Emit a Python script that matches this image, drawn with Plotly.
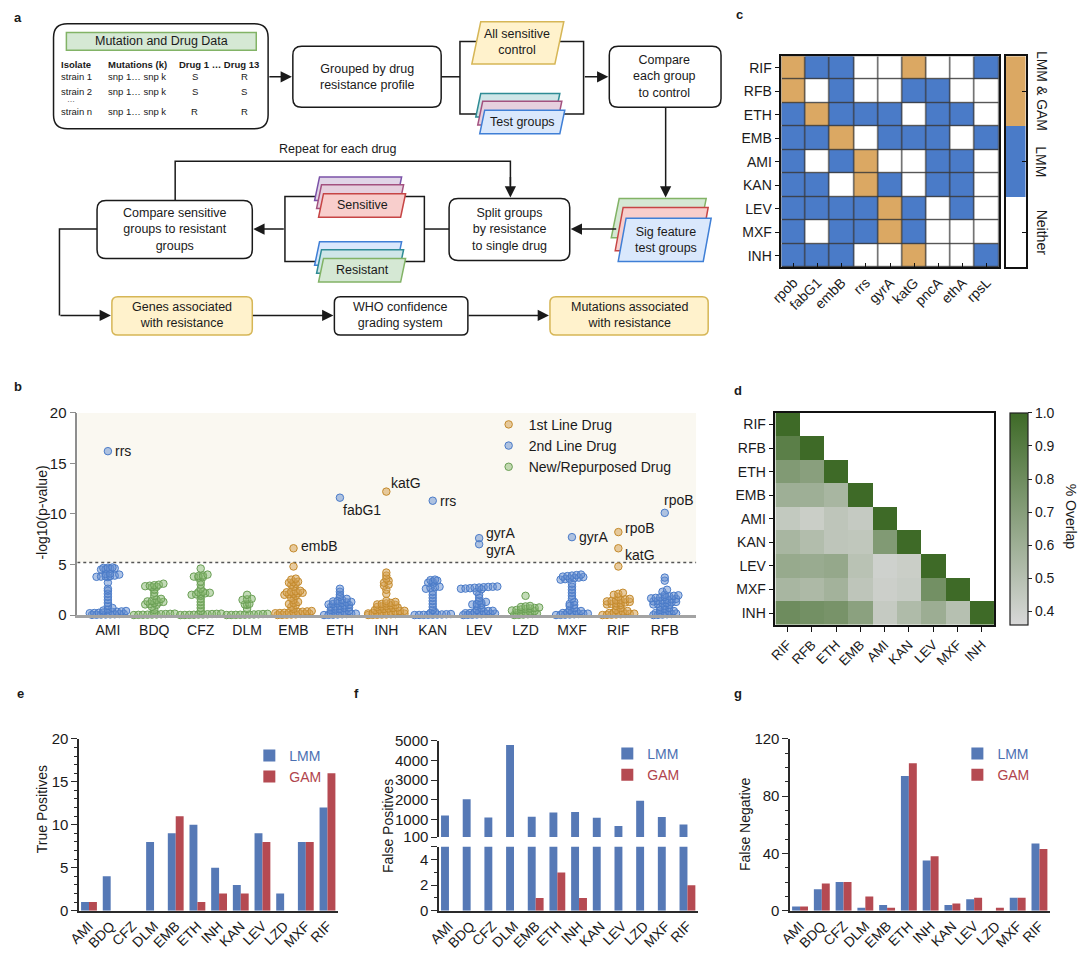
import plotly.graph_objects as go

W, H = 1080, 958
FONT = "Liberation Sans, Arial, sans-serif"


def X(px):
    return px / W


def Y(py):
    return 1 - py / H


# ------------------------------------------------------------------ data
b_drugs = ["AMI", "BDQ", "CFZ", "DLM", "EMB", "ETH", "INH", "KAN", "LEV", "LZD", "MXF", "RIF", "RFB"]
b_class = ["2nd", "new", "new", "new", "1st", "2nd", "1st", "2nd", "2nd", "new", "2nd", "1st", "2nd"]

AMI = [0.02, 0.03, 0.05, 0.06, 0.07, 0.08, 0.1, 0.12, 0.18, 0.2, 0.22, 0.25, 0.28, 0.3, 0.33, 0.36, 0.4,
       0.45, 0.55, 0.7, 0.9, 1.2, 1.5, 1.8, 2.1, 2.4, 2.6, 3.2, 3.75, 3.78, 3.8, 3.82, 3.85, 3.9, 4.0, 4.05,
       4.1, 4.5, 4.55, 4.6, 4.62, 4.65, 4.68, 4.7, 16.2]
BDQ = [0.0, 0.02, 0.03, 0.04, 0.05, 0.06, 0.08, 0.1, 0.12, 0.14, 0.18, 0.5, 0.8, 1.0, 1.05, 1.1, 1.2,
       1.25, 1.3, 1.35, 1.4, 1.5, 1.6, 1.9, 2.2, 2.5, 2.75, 2.8, 2.85, 2.9, 2.95, 3.0, 3.1]
CFZ = [0.0, 0.01, 0.02, 0.03, 0.05, 0.06, 0.08, 0.1, 0.12, 0.14, 0.4, 0.7, 1.0, 1.3, 1.6, 1.9, 2.0, 2.05,
       2.1, 2.15, 2.2, 2.25, 2.3, 2.6, 3.0, 3.3, 3.7, 3.75, 3.8, 3.85, 3.9, 4.0, 4.6]
DLM = [0.0, 0.01, 0.02, 0.03, 0.04, 0.05, 0.06, 0.08, 0.1, 0.12, 0.6, 1.0, 1.05, 1.1, 1.5, 1.55, 1.6, 2.0]
EMB = [0.0, 0.02, 0.04, 0.05, 0.07, 0.1, 0.12, 0.14, 0.18, 0.2, 0.22, 0.25, 0.28, 0.3, 0.33, 0.36, 0.4,
       0.6, 0.8, 1.0, 1.1, 1.2, 1.3, 1.5, 1.7, 1.9, 2.0, 2.05, 2.1, 2.15, 2.2, 2.25, 2.3, 2.35, 2.4, 2.8,
       3.0, 3.1, 3.2, 3.25, 3.3, 3.5, 3.6, 4.8, 6.6]
ETH = [0.0, 0.02, 0.04, 0.06, 0.08, 0.1, 0.12, 0.14, 0.18, 0.2, 0.25, 0.3, 0.4, 0.5, 0.55, 0.6, 0.7,
       0.75, 0.8, 0.85, 0.9, 0.95, 1.0, 1.05, 1.1, 1.15, 1.2, 1.25, 1.3, 1.35, 1.4, 1.5, 1.6, 1.8, 2.0,
       2.3, 2.6, 11.6]
INH = [0.0, 0.02, 0.03, 0.05, 0.06, 0.08, 0.1, 0.12, 0.14, 0.16, 0.2, 0.22, 0.25, 0.28, 0.3, 0.35, 0.4,
       0.42, 0.5, 0.55, 0.6, 0.65, 0.7, 0.75, 0.8, 0.85, 0.9, 0.95, 1.0, 1.05, 1.1, 1.15, 1.2, 1.3, 1.4,
       2.1, 2.5, 2.9, 3.0, 3.2, 3.4, 3.6, 3.9, 4.2, 12.2]
KAN = [0.0, 0.01, 0.02, 0.03, 0.04, 0.05, 0.06, 0.08, 0.1, 0.2, 0.3, 0.5, 0.8, 1.1, 1.4, 1.7, 2.0, 2.3,
       2.6, 2.7, 2.75, 2.8, 3.1, 3.2, 3.3, 3.4, 3.45, 3.5, 11.3]
LEV = [0.0, 0.02, 0.04, 0.06, 0.08, 0.1, 0.12, 0.14, 0.18, 0.2, 0.25, 0.3, 0.35, 0.4, 0.42, 0.5, 0.7,
       0.9, 1.0, 1.05, 1.1, 1.2, 1.3, 1.4, 1.7, 2.0, 2.3, 2.55, 2.6, 2.62, 2.65, 2.7, 2.72, 2.75, 2.78,
       2.8, 2.82, 7.0, 7.6]
LZD = [0.0, 0.02, 0.05, 0.08, 0.1, 0.15, 0.2, 0.25, 0.3, 0.35, 0.4, 0.45, 0.5, 0.55, 0.6, 0.65, 0.7,
       0.75, 0.8, 0.85, 0.9, 1.9]
MXF = [0.0, 0.02, 0.04, 0.06, 0.08, 0.1, 0.12, 0.14, 0.2, 0.25, 0.3, 0.35, 0.4, 0.5, 0.7, 0.9, 1.0, 1.1,
       1.3, 1.6, 1.9, 2.2, 2.5, 2.8, 3.1, 3.5, 3.55, 3.6, 3.65, 3.7, 3.75, 3.8, 3.85, 3.9, 3.95, 4.0, 7.7]
RIF = [0.0, 0.02, 0.04, 0.06, 0.08, 0.1, 0.12, 0.14, 0.2, 0.25, 0.3, 0.35, 0.4, 0.5, 0.7, 0.9, 1.0, 1.05,
       1.1, 1.15, 1.2, 1.25, 1.3, 1.35, 1.4, 1.45, 1.5, 1.55, 1.6, 1.8, 2.0, 2.1, 2.2, 4.8, 6.6, 8.2]
RFB = [0.0, 0.02, 0.05, 0.08, 0.1, 0.15, 0.2, 0.25, 0.3, 0.35, 0.4, 0.5, 0.6, 0.7, 0.8, 0.9, 1.0, 1.05,
       1.1, 1.15, 1.2, 1.25, 1.3, 1.35, 1.4, 1.45, 1.5, 1.55, 1.6, 1.65, 1.7, 1.75, 1.8, 1.85, 1.9, 1.95,
       2.0, 2.3, 2.5, 3.4, 3.7, 10.1]
b_values = [AMI, BDQ, CFZ, DLM, EMB, ETH, INH, KAN, LEV, LZD, MXF, RIF, RFB]
b_threshold = 5.2
# (drug, value, gene label, xshift px, yshift px)
b_hits = [("AMI", 16.2, "rrs", 5, 0), ("EMB", 6.6, "embB", 5, 2), ("ETH", 11.6, "fabG1", 1, -12),
          ("INH", 12.2, "katG", 3, 9), ("KAN", 11.3, "rrs", 5, 0), ("LEV", 7.6, "gyrA", 5, 5),
          ("LEV", 7.0, "gyrA", 5, -6), ("MXF", 7.7, "gyrA", 5, 0), ("RIF", 8.2, "rpoB", 5, 4),
          ("RIF", 6.6, "katG", 5, -7), ("RFB", 10.1, "rpoB", -3, 13)]

c_drugs = ["RIF", "RFB", "ETH", "EMB", "AMI", "KAN", "LEV", "MXF", "INH"]
c_genes = ["rpob", "fabG1", "embB", "rrs", "gyrA", "katG", "pncA", "ethA", "rpsL"]
c_levels = ["Neither", "LMM", "LMM & GAM"]
c_matrix = [
    [2, 1, 1, 0, 0, 2, 0, 0, 1],
    [2, 0, 1, 0, 0, 1, 1, 0, 0],
    [1, 2, 1, 1, 1, 0, 1, 1, 0],
    [1, 1, 2, 0, 1, 1, 1, 0, 1],
    [1, 0, 1, 2, 0, 0, 1, 1, 0],
    [1, 1, 0, 2, 1, 0, 1, 1, 0],
    [1, 1, 1, 1, 2, 1, 0, 1, 0],
    [1, 0, 1, 1, 2, 1, 0, 0, 0],
    [1, 1, 1, 0, 0, 2, 0, 0, 1],
]

d_drugs = ["RIF", "RFB", "ETH", "EMB", "AMI", "KAN", "LEV", "MXF", "INH"]
d_overlap = [
    [1.0],
    [0.88, 1.0],
    [0.72, 0.69, 1.0],
    [0.60, 0.60, 0.56, 1.0],
    [0.45, 0.42, 0.47, 0.44, 1.0],
    [0.56, 0.52, 0.47, 0.46, 0.72, 1.0],
    [0.63, 0.62, 0.64, 0.49, 0.40, 0.42, 1.0],
    [0.56, 0.54, 0.58, 0.47, 0.41, 0.43, 0.78, 1.0],
    [0.80, 0.78, 0.76, 0.68, 0.44, 0.53, 0.61, 0.50, 1.0],
]
d_ticks = [0.4, 0.5, 0.6, 0.7, 0.8, 0.9, 1.0]

bar_drugs = ["AMI", "BDQ", "CFZ", "DLM", "EMB", "ETH", "INH", "KAN", "LEV", "LZD", "MXF", "RIF"]
tp_lmm = [1, 4, 0, 8, 9, 10, 5, 3, 9, 2, 8, 12]
tp_gam = [1, 0, 0, 0, 11, 1, 2, 2, 8, 0, 8, 16]
fp_lmm = [1200, 2030, 1100, 4780, 1130, 1350, 1370, 1080, 660, 1950, 1120, 740]
fp_gam = [0, 0, 0, 0, 1, 3, 1, 0, 0, 0, 0, 2]
fn_lmm = [3, 15, 20, 2, 4, 94, 35, 4, 8, 0, 9, 47]
fn_gam = [3, 19, 20, 10, 2, 103, 38, 5, 9, 2, 9, 43]

# ------------------------------------------------------------------ styles
CLS = {
    "1st": dict(name="1st Line Drug", fill="rgba(214,163,84,0.55)", line="#C48A2C", rank=1),
    "2nd": dict(name="2nd Line Drug", fill="rgba(98,140,208,0.50)", line="#4A7BC8", rank=2),
    "new": dict(name="New/Repurposed Drug", fill="rgba(135,184,112,0.50)", line="#6A9F55", rank=3),
}
C_BLUE = "#4A7BC8"
C_ORANGE = "#DBA863"
BAR_LMM = "#5679B6"
BAR_GAM = "#B54A52"
TXT_LMM = "#4C70B2"
TXT_GAM = "#B0444C"
BOX_FS = 12.5

fig = go.Figure()
shapes = []
annotations = []


def ann(x, y, text, size=BOX_FS, color="#1a1a1a", bold=False, **kw):
    if bold:
        text = "<b>" + text + "</b>"
    d = dict(x=X(x), y=Y(y), xref="paper", yref="paper", text=text, showarrow=False,
             xanchor="center", yanchor="middle",
             font=dict(family=FONT, size=size, color=color))
    d.update(kw)
    annotations.append(d)


def pt(x, y):
    return f"{X(x):.5f},{Y(y):.5f}"


def rrect(x0, y0, x1, y1, r=9, fill="white", line="#1a1a1a", lw=1.5):
    p = (f"M{pt(x0 + r, y0)} L{pt(x1 - r, y0)} Q{pt(x1, y0)} {pt(x1, y0 + r)} "
         f"L{pt(x1, y1 - r)} Q{pt(x1, y1)} {pt(x1 - r, y1)} L{pt(x0 + r, y1)} "
         f"Q{pt(x0, y1)} {pt(x0, y1 - r)} L{pt(x0, y0 + r)} Q{pt(x0, y0)} {pt(x0 + r, y0)} Z")
    shapes.append(dict(type="path", path=p, xref="paper", yref="paper", fillcolor=fill,
                       line=dict(color=line, width=lw), layer="above"))


def para(x0, y0, x1, y1, s, fill, line, lw=1.5):
    p = f"M{pt(x0 + s, y0)} L{pt(x1, y0)} L{pt(x1 - s, y1)} L{pt(x0, y1)} Z"
    shapes.append(dict(type="path", path=p, xref="paper", yref="paper", fillcolor=fill,
                       line=dict(color=line, width=lw), layer="above"))


def poly(points, closed=False, lw=1.5):
    p = "M" + " L".join(pt(x, y) for x, y in points) + (" Z" if closed else "")
    shapes.append(dict(type="path", path=p, xref="paper", yref="paper",
                       line=dict(color="#1a1a1a", width=lw), layer="above"))


def arrow(tx, ty, hx, hy):
    annotations.append(dict(x=X(hx), y=Y(hy), xref="paper", yref="paper", ax=tx - hx, ay=ty - hy,
                            text="", showarrow=True, arrowhead=2, arrowsize=1.5, arrowwidth=1.5,
                            arrowcolor="#1a1a1a"))


GREEN = ("#d5e8d4", "#82b366")
YELLOW = ("#fff2cc", "#d6b656")
BLUEB = ("#dae8fc", "#3f7fd6")
RED = ("#f8cecc", "#c64545")
PINK = ("#e6d0de", "#a3517f")
TEAL = ("#cfe6e8", "#2f8c95")
PURPLE = ("#e1d5e7", "#7b52a8")

# ------------------------------------------------------------------ panel a (flow chart)
poly([(453, 33), (578, 33), (578, 107), (453, 107)], closed=True)
poly([(434, 69), (453, 69)])
poly([(276, 191), (417, 191), (417, 257), (276, 257)], closed=True)
poly([(417, 224), (442, 224)])
poly([(165, 195), (165, 155), (504, 155), (504, 180)])
poly([(86, 224), (48, 224), (48, 312)])

rrect(42, 15, 259, 122, r=14)
shapes.append(dict(type="rect", xref="paper", yref="paper", x0=X(55), x1=X(247), y0=Y(42), y1=Y(24),
                   fillcolor=GREEN[0], line=dict(color=GREEN[1], width=1.5), layer="above"))
ann(151, 33, "Mutation and Drug Data", size=12.5)
ann(48, 56, "Isolate", size=9.5, bold=True, xanchor="left")
ann(95, 56, "Mutations (k)", size=9.5, bold=True, xanchor="left")
ann(167, 56, "Drug 1 … Drug 13", size=9.5, bold=True, xanchor="left")
for yy, name, s1, s2 in [(69, "strain 1", "S", "R"), (84, "strain 2", "S", "S"), (104, "strain n", "R", "R")]:
    ann(48, yy, name, size=9.5, xanchor="left")
    ann(95, yy, "snp 1… snp k", size=9.5, xanchor="left")
    ann(185, yy, s1, size=9.5)
    ann(235, yy, s2, size=9.5)
ann(60, 92, "…", size=8)

rrect(284, 38, 434, 100)
ann(359, 69, "Grouped by drug<br>resistance profile")
para(465, 13, 558, 56, 9, *YELLOW)
ann(511, 34, "All sensitive<br>control")
para(469, 86, 554, 110, 5, *TEAL)
para(471, 94, 556, 118, 5, *PINK)
para(473, 103, 559, 127, 5, *BLUEB)
ann(516, 115, "Test groups")
rrect(604, 38, 717, 100)
ann(660, 69, "Compare<br>each group<br>to control")

para(606, 193, 702, 233, 8, *GREEN)
para(610, 202, 704, 246, 8, *RED)
para(613, 213, 707, 257, 8, *BLUEB)
ann(661, 235, "Sig feature<br>test groups")
rrect(442, 193, 564, 256)
ann(503, 224, "Split groups<br>by resistance<br>to single drug")

para(306, 171, 394, 195, 5, *PURPLE)
para(308, 179, 396, 203, 5, *PINK)
para(310, 188, 398, 212, 5, *RED)
ann(354, 200, "Sensitive")
para(306, 237, 394, 261, 5, *BLUEB)
para(308, 245, 396, 269, 5, *TEAL)
para(310, 254, 398, 278, 5, *GREEN)
ann(354, 266, "Resistant")
rrect(86, 195, 243, 254)
ann(165, 224, "Compare sensitive<br>groups to resistant<br>groups")
ann(329, 143, "Repeat for each drug")

rrect(101, 293, 243, 332, r=6, fill=YELLOW[0], line=YELLOW[1])
ann(172, 312, "Genes associated<br>with resistance")
rrect(326, 293, 461, 332, r=6)
ann(393, 312, "WHO confidence<br>grading system")
rrect(544, 293, 704, 332, r=6, fill=YELLOW[0], line=YELLOW[1])
ann(624, 312, "Mutations associated<br>with resistance")

arrow(259, 69, 283, 69)
arrow(578, 69, 603, 69)
arrow(661, 100, 661, 192)
arrow(612, 224, 565, 224)
arrow(276, 224, 244, 224)
arrow(504, 170, 504, 192)
arrow(48, 312, 100, 312)
arrow(243, 312, 325, 312)
arrow(461, 312, 543, 312)

# ------------------------------------------------------------------ panel b (beeswarm)
PX_PER_CAT = 47.0


def swarm_offsets(vals, bin_h=0.3, step_px=4.6):
    rows = {}
    order = sorted(range(len(vals)), key=lambda i: vals[i])
    for i in order:
        rows.setdefault(int(round(vals[i] / bin_h)), []).append(i)
    offs = [0.0] * len(vals)
    for members in rows.values():
        n = len(members)
        for j, i in enumerate(members):
            offs[i] = (j - (n - 1) / 2) * step_px / PX_PER_CAT
    return offs


shown = set()
for k, (drug, cls, vals) in enumerate(zip(b_drugs, b_class, b_values)):
    st = CLS[cls]
    offs = swarm_offsets(vals)
    fig.add_trace(go.Scatter(
        x=[k + o for o in offs], y=vals, mode="markers", xaxis="x", yaxis="y",
        marker=dict(size=7.5, color=st["fill"], line=dict(color=st["line"], width=1)),
        name=st["name"], legendgroup=cls, showlegend=cls not in shown, legendrank=st["rank"],
        legend="legend", cliponaxis=False, hoverinfo="skip"))
    shown.add(cls)

for drug, val, gene, xs, ys in b_hits:
    annotations.append(dict(x=b_drugs.index(drug), y=val, xref="x", yref="y", text=gene,
                            showarrow=False, xanchor="left", yanchor="middle", xshift=xs, yshift=ys,
                            font=dict(family=FONT, size=14, color="#1a1a1a")))

B_X0, B_X1 = -0.66, 12.68
shapes.append(dict(type="rect", xref="x", yref="y", x0=B_X0, x1=B_X1, y0=b_threshold, y1=20,
                   fillcolor="#FAF8F1", line=dict(width=0), layer="below"))
shapes.append(dict(type="line", xref="x", yref="y", x0=B_X0, x1=B_X1, y0=b_threshold, y1=b_threshold,
                   line=dict(color="#555555", width=1.6, dash="dot"), layer="below"))
ann(30, 513, "-log10(p-value)", size=14, textangle=-90)

# ------------------------------------------------------------------ panel c (categorical heatmap)
c_scale = [[0, "white"], [0.3333, "white"], [0.3333, C_BLUE], [0.6667, C_BLUE],
           [0.6667, C_ORANGE], [1, C_ORANGE]]
fig.add_trace(go.Heatmap(z=c_matrix, x=c_genes, y=c_drugs, xaxis="x2", yaxis="y2", zmin=0, zmax=2,
                         colorscale=c_scale, showscale=False, xgap=1.2, ygap=1.2, hoverinfo="skip"))
shapes.append(dict(type="rect", xref="x2", yref="y2", x0=-0.5, x1=8.5, y0=-0.5, y1=8.5,
                   fillcolor="#3a3a3a", line=dict(width=0), layer="below"))
fig.add_trace(go.Heatmap(z=[[2], [1], [0]], x=[0], y=[2, 1, 0], xaxis="x8", yaxis="y8", zmin=0, zmax=2,
                         colorscale=c_scale, showscale=False, hoverinfo="skip"))
for i, lab in enumerate(c_levels):
    annotations.append(dict(x=X(1041), y=i, xref="paper", yref="y8", text=lab, showarrow=False,
                            xanchor="center", yanchor="middle", textangle=90,
                            font=dict(family=FONT, size=14, color="#1a1a1a")))

# ------------------------------------------------------------------ panel d (overlap heatmap)
n_d = len(d_drugs)
d_z = [row + [None] * (n_d - len(row)) for row in d_overlap]
fig.add_trace(go.Heatmap(
    z=d_z, x=d_drugs, y=d_drugs, xaxis="x3", yaxis="y3", zmin=0.36, zmax=1.0,
    colorscale=[[0, "#D8D8D8"], [1, "#3E6A27"]], hoverinfo="skip",
    colorbar=dict(x=X(1009), xanchor="left", y=Y(519), yanchor="middle", len=216 / H, lenmode="fraction",
                  thickness=18, thicknessmode="pixels", outlinecolor="#222222", outlinewidth=1.2,
                  tickvals=d_ticks, ticktext=[f"{t:.1f}" for t in d_ticks], ticks="outside", ticklen=4,
                  tickcolor="#222222", tickfont=dict(family=FONT, size=14, color="#1a1a1a"),
                  xpad=0, ypad=0)))
ann(1071, 517, "% Overlap", size=14, textangle=90)

# ------------------------------------------------------------------ panels e, f, g (bars)
bx = list(range(len(bar_drugs)))
NAME_LMM = f"<span style='color:{TXT_LMM}'>LMM</span>"
NAME_GAM = f"<span style='color:{TXT_GAM}'>GAM</span>"


def bars(yl, yg, xa, ya, leg, show=True):
    fig.add_trace(go.Bar(x=bx, y=yl, xaxis=xa, yaxis=ya, name=NAME_LMM, legend=leg, showlegend=show,
                         marker=dict(color=BAR_LMM, line=dict(width=0)), hoverinfo="skip"))
    fig.add_trace(go.Bar(x=bx, y=yg, xaxis=xa, yaxis=ya, name=NAME_GAM, legend=leg, showlegend=show,
                         marker=dict(color=BAR_GAM, line=dict(width=0)), hoverinfo="skip"))


bars(tp_lmm, tp_gam, "x4", "y4", "legend2")
bars(fp_lmm, fp_gam, "x5", "y5", "legend3")
bars(fp_lmm, fp_gam, "x6", "y6", "legend3", show=False)
bars(fn_lmm, fn_gam, "x7", "y7", "legend4")
ann(30, 815, "True Positives", size=14, textangle=-90)
ann(380, 832, "False Positives", size=14, textangle=-90)
ann(742, 830, "False Negative", size=14, textangle=-90)

# panel letters
for lab, x, y in [("a", 6, 9), ("b", 6, 384), ("c", 736, 6), ("d", 734, 388), ("e", 9, 697),
                  ("f", 348, 697), ("g", 734, 697)]:
    ann(x, y, lab, size=13, bold=True)

# ------------------------------------------------------------------ layout / axes
AX = "#2a2a2a"
tickf = dict(family=FONT, size=14, color="#1a1a1a")


def dom_x(a, b):
    return [X(a), X(b)]


def dom_y(top, bottom):
    return [Y(bottom), Y(top)]


bar_x = dict(range=[-0.45, 11.5], tickvals=bx, ticktext=bar_drugs, tickangle=-45, showline=True,
             linecolor=AX, linewidth=1.6, ticks="", tickfont=dict(family=FONT, size=14, color="#1a1a1a"),
             showgrid=False, zeroline=False, fixedrange=True)


def bar_y(**kw):
    d = dict(showline=True, linecolor=AX, linewidth=1.6, ticks="outside", ticklen=6, tickwidth=1.4,
             tickcolor=AX, tickfont=dict(family=FONT, size=15, color="#1a1a1a"), showgrid=False,
             zeroline=False, fixedrange=True)
    d.update(kw)
    return d


fig.update_layout(
    width=W, height=H, margin=dict(l=0, r=0, t=0, b=0), paper_bgcolor="white", plot_bgcolor="rgba(0,0,0,0)",
    font=dict(family=FONT, color="#1a1a1a"), barmode="group", bargap=0.27, bargroupgap=0,
    showlegend=True,
    xaxis=dict(domain=dom_x(66, 692), anchor="y", range=[B_X0, B_X1], tickvals=list(range(13)),
               ticktext=b_drugs, showline=True, linecolor="#A3A3A3", linewidth=2.5, ticks="",
               tickfont=tickf, showgrid=False, zeroline=False),
    yaxis=dict(domain=dom_y(411, 617), anchor="x", range=[0, 20], tickvals=[0, 5, 10, 15, 20],
               showline=True, linecolor="#8E8E8E", linewidth=1.5, ticks="outside", ticklen=6,
               tickcolor="#8E8E8E", tickfont=dict(family=FONT, size=15, color="#1a1a1a"),
               showgrid=False, zeroline=False),
    xaxis2=dict(domain=dom_x(778, 998), anchor="y2", range=[-0.5, 8.5], tickangle=-45, ticks="inside",
                ticklen=5, tickcolor="#111", showline=True, mirror=True, linecolor="#111", linewidth=1.5,
                tickfont=dict(family=FONT, size=14, color="#1a1a1a"), showgrid=False, zeroline=False),
    yaxis2=dict(domain=dom_y(48, 263), anchor="x2", range=[8.5, -0.5], ticks="outside", ticklen=5,
                tickcolor="#111", showline=True, mirror=True, linecolor="#111", linewidth=1.5,
                tickfont=dict(family=FONT, size=14, color="#1a1a1a"), showgrid=False, zeroline=False),
    xaxis8=dict(domain=dom_x(1005, 1025), anchor="y8", range=[-0.5, 0.5], showticklabels=False, ticks="",
                showline=True, mirror=True, linecolor="#111", linewidth=1.5, showgrid=False, zeroline=False),
    yaxis8=dict(domain=dom_y(48, 263), anchor="x8", range=[-0.5, 2.5], side="right", tickvals=[0, 1, 2],
                showticklabels=False, ticks="inside", ticklen=4, tickcolor="#111", showline=True, mirror=True,
                linecolor="#111", linewidth=1.5, showgrid=False, zeroline=False),
    xaxis3=dict(domain=dom_x(772, 993), anchor="y3", range=[-0.5, 8.5], tickangle=-45, ticks="outside",
                ticklen=5, tickcolor="#111", showline=True, mirror=True, linecolor="#111", linewidth=1.5,
                tickfont=dict(family=FONT, size=13.5, color="#1a1a1a"), showgrid=False, zeroline=False),
    yaxis3=dict(domain=dom_y(411, 627), anchor="x3", range=[8.5, -0.5], ticks="outside", ticklen=5,
                tickcolor="#111", showline=True, mirror=True, linecolor="#111", linewidth=1.5,
                tickfont=dict(family=FONT, size=14, color="#1a1a1a"), showgrid=False, zeroline=False),
    xaxis4=dict(domain=dom_x(68, 330), anchor="y4", **bar_x),
    yaxis4=bar_y(domain=dom_y(743, 918), anchor="x4", range=[0, 20], tickvals=[0, 5, 10, 15, 20],
                 minor=dict(ticks="outside", dtick=1, ticklen=3, tickcolor=AX)),
    xaxis5=dict(domain=dom_x(432, 694), anchor="y5", range=[-0.45, 11.5], showticklabels=False,
                showline=False, ticks="", showgrid=False, zeroline=False),
    yaxis5=bar_y(domain=dom_y(745, 843), anchor="x5", range=[100, 5000],
                 tickvals=[100, 1000, 2000, 3000, 4000, 5000]),
    xaxis6=dict(domain=dom_x(432, 694), anchor="y6", **bar_x),
    yaxis6=bar_y(domain=dom_y(853, 918), anchor="x6", range=[0, 5], tickvals=[0, 2, 4, 5],
                 ticktext=["0", "2", "4", ""], minor=dict(ticks="outside", dtick=1, ticklen=3, tickcolor=AX)),
    xaxis7=dict(domain=dom_x(787, 1050), anchor="y7", **bar_x),
    yaxis7=bar_y(domain=dom_y(743, 918), anchor="x7", range=[0, 120], tickvals=[0, 40, 80, 120],
                 minor=dict(ticks="outside", dtick=10, ticklen=3, tickcolor=AX)),
    legend=dict(x=X(482), y=Y(407), xanchor="left", yanchor="top", bgcolor="rgba(0,0,0,0)",
                font=dict(family=FONT, size=14, color="#1a1a1a"), tracegroupgap=0),
    legend2=dict(x=X(240), y=Y(744), xanchor="left", yanchor="top", bgcolor="rgba(0,0,0,0)",
                 font=dict(family=FONT, size=14), tracegroupgap=0),
    legend3=dict(x=X(602), y=Y(742), xanchor="left", yanchor="top", bgcolor="rgba(0,0,0,0)",
                 font=dict(family=FONT, size=14), tracegroupgap=0),
    legend4=dict(x=X(956), y=Y(742), xanchor="left", yanchor="top", bgcolor="rgba(0,0,0,0)",
                 font=dict(family=FONT, size=14), tracegroupgap=0),
    shapes=shapes,
    annotations=annotations,
)

fig.write_html("out.html", config={"displayModeBar": False},
               post_script="document.body.style.margin='0';document.body.style.overflow='hidden';")
